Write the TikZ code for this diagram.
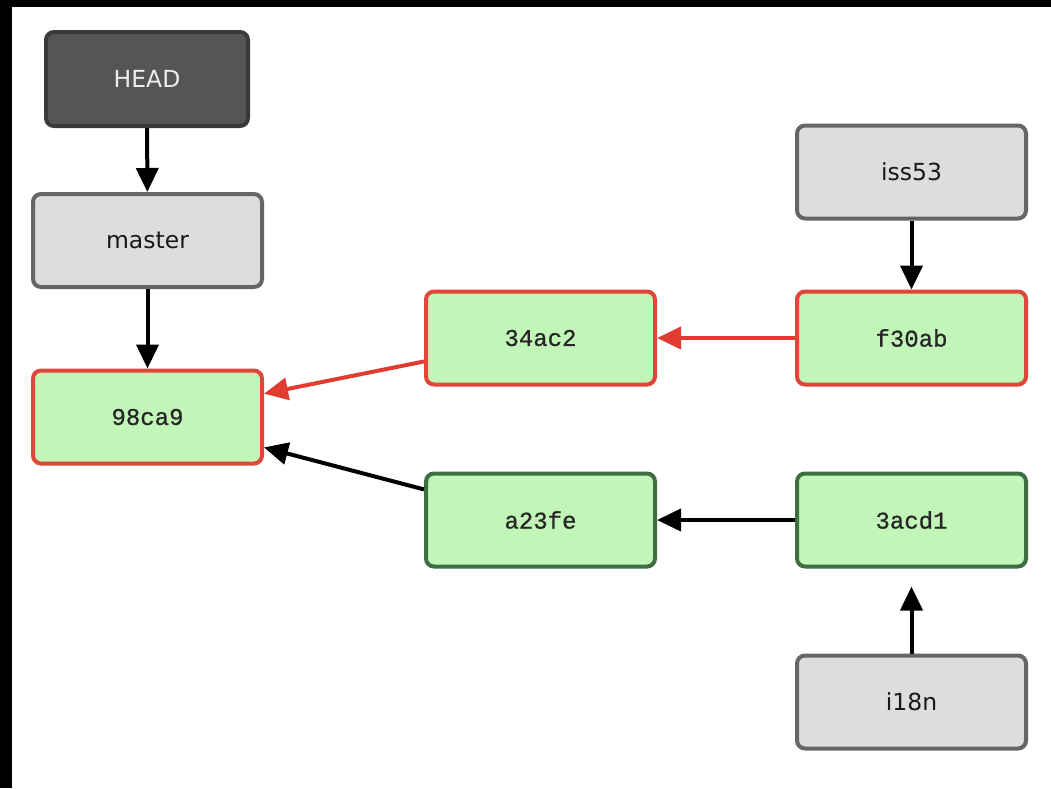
\documentclass[tikz,border=0pt]{standalone}
\usepackage{fontspec}
\setmainfont{DejaVu Sans}
\newfontfamily\hashfont[FakeBold=0.8]{Liberation Mono}
\usetikzlibrary{arrows.meta}
\definecolor{headfill}{HTML}{555555}
\definecolor{headdraw}{HTML}{3A3A3A}
\definecolor{reffill}{HTML}{DCDDDD}
\definecolor{refdraw}{HTML}{666666}
\definecolor{cfill}{HTML}{C2F5B8}
\definecolor{cred}{HTML}{E0463A}
\definecolor{cgreen}{HTML}{3F6E42}
\definecolor{ared}{HTML}{E03C31}
\tikzset{
  box/.style={rectangle, rounded corners=8pt, line width=4pt, minimum width=229pt, minimum height=93pt, inner sep=0pt},
  headbox/.style={box, fill=headfill, draw=headdraw, minimum width=202pt, minimum height=94pt, text=white!93!black, font=\fontsize{23.5}{27}\selectfont},
  refbox/.style={box, fill=reffill, draw=refdraw, text=black!90, font=\fontsize{23.5}{27}\selectfont},
  redcommit/.style={box, fill=cfill, draw=cred, text=black!85, font=\hashfont\fontsize{24}{28}\selectfont},
  greencommit/.style={box, fill=cfill, draw=cgreen, text=black!85, font=\hashfont\fontsize{24}{28}\selectfont},
  blackarrow/.style={line width=4pt, draw=black, -{Triangle[length=24pt,width=22pt]}},
  redarrow/.style={line width=4pt, draw=ared, -{Triangle[length=24pt,width=22pt]}, color=ared},
}
\begin{document}
\begin{tikzpicture}[x=1pt,y=-1pt]
\useasboundingbox (0,0) rectangle (1051,788);
\fill[white] (0,0) rectangle (1051,788);
\fill[black] (0,0) rectangle (1051,7);
\fill[black] (0,0) rectangle (12,788);
\node[headbox] (head) at (147,79) {HEAD};
\node[refbox] (master) at (147.5,240.5) {master};
\node[redcommit] (c98ca9) at (147.5,417) {98ca9};
\node[redcommit] (c34ac2) at (540.5,338) {34ac2};
\node[redcommit] (cf30ab) at (911.5,338) {f30ab};
\node[refbox] (iss53) at (911.5,172) {iss53};
\node[greencommit] (ca23fe) at (540.5,520) {a23fe};
\node[greencommit] (c3acd1) at (911.5,520) {3acd1};
\node[refbox] (i18n) at (911.5,702) {i18n};
\draw[blackarrow] (head) -- (master);
\draw[blackarrow] (master) -- (c98ca9);
\draw[redarrow] (c34ac2) -- (c98ca9);
\draw[redarrow] (cf30ab) -- (c34ac2);
\draw[blackarrow] (ca23fe) -- (c98ca9);
\draw[blackarrow] (c3acd1) -- (ca23fe);
\draw[blackarrow] (iss53) -- (cf30ab);
\draw[blackarrow, shorten >=18pt] (i18n) -- (c3acd1);
\end{tikzpicture}
\end{document}
